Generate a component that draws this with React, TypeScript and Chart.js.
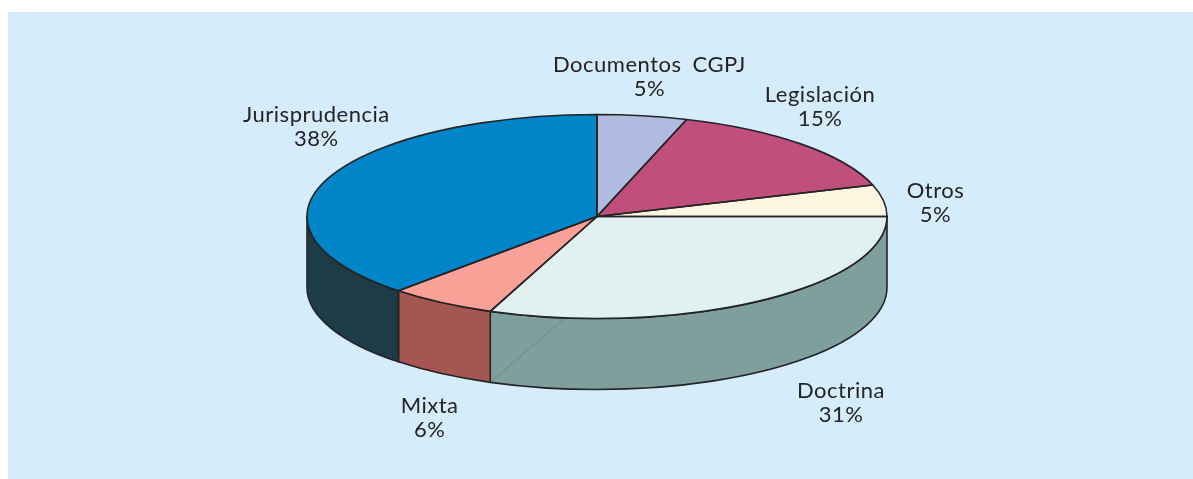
import React, { useEffect, useRef } from "react";
import { Chart, registerables } from "chart.js";

Chart.register(...registerables);

const categories = ["Documentos CGPJ", "Legislación", "Otros", "Doctrina", "Mixta", "Jurisprudencia"];
const shares = [5, 15, 5, 31, 6, 38];
const topColors = ["#AFBCDF", "#C14F7B", "#FEF6E0", "#E0F1F0", "#F9A097", "#0085C9"];
const wallColors = ["#8B96B2", "#9A3F62", "#CBC4B3", "#7F9F9C", "#A55652", "#1C3C46"];

const INK = "#252325";
const PANEL = "#D5EDFB";
const TILT = 102 / 290;
const DEPTH = 71;
const RADIUS = 290;
const SEAM_ANGLE = (96.3 * Math.PI) / 180;
// label offset from the rim point at each slice's middle angle
const labelOffsets = [
  [7, -43.7],
  [18, -42],
  [52, -3],
  [81, 97],
  [-12, 110],
  [-11, -57],
];
const LINE_GAP = 24;
const FONT = '22px Lato, "Noto Sans", sans-serif';

const pie3d = {
  id: "pie3d",
  beforeDatasetsDraw(chart: any) {
    const ctx = chart.ctx;
    const arcs = chart.getDatasetMeta(0).data;
    const { x, y } = arcs[0];
    ctx.save();
    ctx.lineWidth = 1.6;
    ctx.strokeStyle = INK;
    ctx.lineJoin = "round";
    arcs.forEach((el: any, i: number) => {
      const a0 = Math.max(el.startAngle, 0);
      const a1 = Math.min(el.endAngle, Math.PI);
      if (a1 <= a0) return;
      const r = el.outerRadius;
      ctx.beginPath();
      ctx.ellipse(x, y, r, r * TILT, 0, a0, a1);
      ctx.ellipse(x, y + DEPTH, r, r * TILT, 0, a1, a0, true);
      ctx.closePath();
      ctx.fillStyle = wallColors[i];
      ctx.fill();
      ctx.stroke();
    });
    // faint crease on the Doctrina wall
    const doctrina = arcs[3];
    const r = doctrina.outerRadius;
    ctx.beginPath();
    ctx.moveTo(x + r * Math.cos(doctrina.endAngle), y + DEPTH + r * TILT * Math.sin(doctrina.endAngle));
    ctx.lineTo(x + r * Math.cos(SEAM_ANGLE), y + r * TILT * Math.sin(SEAM_ANGLE));
    ctx.lineWidth = 0.6;
    ctx.strokeStyle = "#5E7C7B";
    ctx.stroke();
    ctx.restore();
    // squash the library's own arcs into the tilted top face
    ctx.save();
    ctx.translate(0, y);
    ctx.scale(1, TILT);
    ctx.translate(0, -y);
  },
  afterDatasetsDraw(chart: any) {
    const ctx = chart.ctx;
    ctx.restore();
    const arcs = chart.getDatasetMeta(0).data;
    ctx.save();
    ctx.lineWidth = 1.6;
    ctx.strokeStyle = INK;
    ctx.lineJoin = "round";
    arcs.forEach((el: any) => {
      const r = el.outerRadius;
      ctx.beginPath();
      ctx.moveTo(el.x, el.y);
      ctx.ellipse(el.x, el.y, r, r * TILT, 0, el.startAngle, el.endAngle);
      ctx.closePath();
      ctx.stroke();
    });
    ctx.font = FONT;
    ctx.fillStyle = INK;
    ctx.textAlign = "center";
    ctx.textBaseline = "alphabetic";
    (ctx as any).letterSpacing = "0.5px";
    (ctx as any).wordSpacing = "5px";
    arcs.forEach((el: any, i: number) => {
      const mid = (el.startAngle + el.endAngle) / 2;
      const r = el.outerRadius;
      const lx = el.x + r * Math.cos(mid) + labelOffsets[i][0];
      const ly = el.y + r * TILT * Math.sin(mid) + labelOffsets[i][1];
      ctx.fillText(categories[i], lx, ly);
      ctx.fillText(`${shares[i]}%`, lx, ly + LINE_GAP);
    });
    ctx.restore();
  },
};

export default function App() {
  const ref = useRef<HTMLCanvasElement>(null);
  useEffect(() => {
    const chart = new Chart(ref.current as HTMLCanvasElement, {
      type: "pie",
      data: {
        labels: categories,
        datasets: [{ data: shares, backgroundColor: topColors, borderWidth: 0 }],
      },
      options: {
        animation: false,
        responsive: false,
        radius: RADIUS,
        layout: { padding: { left: 1, right: 0, top: 0, bottom: 46 } },
        plugins: { legend: { display: false }, tooltip: { enabled: false } },
      } as any,
      plugins: [pie3d],
    });
    return () => chart.destroy();
  }, []);
  return (
    <div style={{ position: "fixed", left: 0, top: 0, width: 1193, height: 479, background: "#fff", overflow: "hidden" }}>
      <div style={{ position: "absolute", left: 8, top: 12, right: 0, bottom: 0, background: PANEL }} />
      <canvas ref={ref} width={1193} height={479} style={{ position: "absolute", left: 0, top: 0, display: "block" }} />
    </div>
  );
}
